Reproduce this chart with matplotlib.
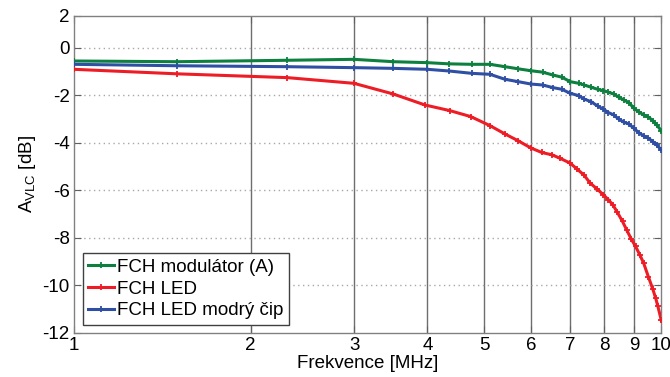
import matplotlib
matplotlib.use("Agg")
import matplotlib.pyplot as plt

### data
freq_gb = [1, 1.5, 2.31, 3, 3.5, 4, 4.35, 4.76, 5.11, 5.42, 5.71, 6.0, 6.28, 6.54, 6.77,
           7.0, 7.24, 7.39, 7.59, 7.79, 7.97, 8.13, 8.30, 8.46, 8.63, 8.81, 8.98,
           9.15, 9.33, 9.51, 9.67, 9.82, 10.0]
modulator = [-0.56, -0.59, -0.53, -0.49, -0.59, -0.63, -0.68, -0.70, -0.70, -0.80, -0.89,
             -0.97, -1.03, -1.15, -1.24, -1.43, -1.50, -1.57, -1.66, -1.75, -1.81, -1.87,
             -1.95, -2.08, -2.20, -2.31, -2.55, -2.69, -2.83, -2.92, -3.07, -3.25, -3.49]
led_blue = [-0.70, -0.76, -0.80, -0.84, -0.87, -0.91, -0.98, -1.08, -1.12, -1.33, -1.43,
            -1.53, -1.57, -1.68, -1.75, -1.92, -2.02, -2.16, -2.27, -2.45, -2.59, -2.73,
            -2.83, -3.00, -3.13, -3.21, -3.39, -3.57, -3.71, -3.81, -3.95, -4.09, -4.30]

freq_r = [1, 1.5, 2.31, 3, 3.5, 3.96, 4.37, 4.74, 5.11, 5.42, 5.71, 6.0, 6.26, 6.52, 6.72,
          7.0, 7.19, 7.38, 7.57, 7.77, 7.97, 8.13, 8.27, 8.42, 8.59, 8.74, 8.89, 9.04,
          9.19, 9.33, 9.51, 9.67, 9.78, 9.86, 10.0]
led = [-0.91, -1.10, -1.26, -1.50, -1.95, -2.41, -2.65, -2.90, -3.28, -3.63, -3.92, -4.22,
       -4.41, -4.51, -4.65, -4.86, -5.11, -5.35, -5.70, -5.94, -6.19, -6.40, -6.61, -6.93,
       -7.31, -7.69, -8.05, -8.36, -8.71, -9.06, -9.65, -10.15, -10.53, -10.85, -11.47]

labels = ["FCH modulátor (A)", "FCH LED", "FCH LED modrý čip"]
xticks = [1, 2, 3, 4, 5, 6, 7, 8, 9, 10]
yticks = [-12, -10, -8, -6, -4, -2, 0]
ytop = 1.34   # top of the axes sits where the "2" label is drawn

plt.rcParams['font.family'] = ['Liberation Sans', 'DejaVu Sans']
plt.rcParams['font.size'] = 13.5
plt.rcParams['mathtext.fontset'] = 'custom'
plt.rcParams['mathtext.rm'] = 'Liberation Sans'

fig = plt.figure(figsize=(6.7, 3.77), dpi=100)
ax = fig.add_axes([0.110, 0.117, 0.877, 0.841])

ax.set_xscale('log')
ax.set_xlim(1, 10)
ax.set_ylim(-12, ytop)

### grid: solid vertical, dotted horizontal
for xv in xticks[1:-1]:
    ax.axvline(xv, color='#6e6e6e', lw=1.0, zorder=1)
for yv in yticks[1:]:
    ax.axhline(yv, color='#a8a8a8', lw=1.0, ls=(0, (1, 2.5)), zorder=1)

style = dict(lw=2.2, marker='+', ms=5, mew=1.3, zorder=3)
ax.plot(freq_gb, modulator, color='#0d8040', label=labels[0], **style)
ax.plot(freq_r, led, color='#ee1c24', label=labels[1], **style)
ax.plot(freq_gb, led_blue, color='#2e4fa3', label=labels[2], **style)

ax.set_xticks(xticks)
ax.set_xticklabels([str(v) for v in xticks])
ax.xaxis.set_minor_locator(matplotlib.ticker.NullLocator())
ax.set_yticks(yticks + [ytop])
ax.set_yticklabels([str(v) for v in yticks] + ['2'])
ax.tick_params(direction='in', length=5, top=True, right=True, color='#606060', pad=3)

for sp in ax.spines.values():
    sp.set_color('#808080')
    sp.set_linewidth(1.0)

ax.set_xlabel("Frekvence [MHz]", labelpad=1)
ax.set_ylabel(r"$\mathregular{A_{VLC}}$ [dB]", labelpad=3)

leg = ax.legend(loc='lower left', bbox_to_anchor=(0.015, 0.025), frameon=True,
                fancybox=False, edgecolor='#404040', framealpha=1,
                handlelength=1.4, handletextpad=0.15, borderpad=0.3, labelspacing=0.25,
                borderaxespad=0)
leg.get_frame().set_linewidth(1.0)

fig.savefig("out.png", dpi=100)
plt.close(fig)
